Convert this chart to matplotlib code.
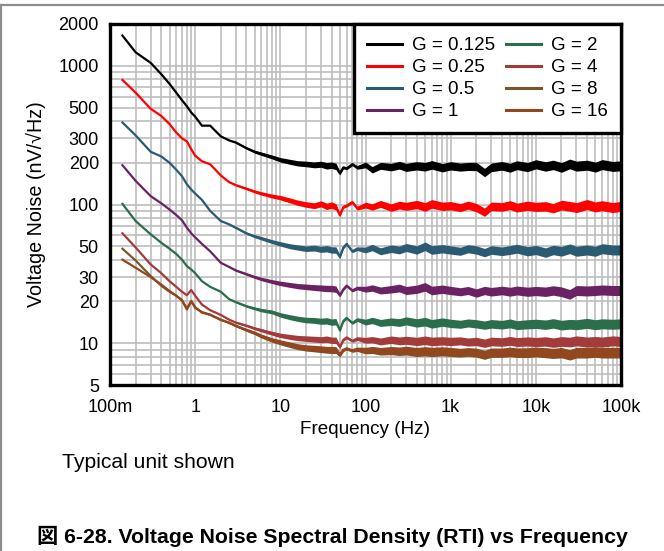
import numpy as np
import matplotlib
matplotlib.use("Agg")
import matplotlib.pyplot as plt
from matplotlib.ticker import FixedLocator, LogLocator, NullFormatter
from matplotlib.lines import Line2D

plt.rcParams['font.family'] = ['Liberation Sans', 'Noto Sans CJK JP', 'DejaVu Sans']

FREQ = [0.14, 0.2, 0.3, 0.4, 0.5, 0.6, 0.7, 0.8, 0.9, 1.0,
        1.2, 1.5, 2, 2.5, 3, 4, 5, 6, 8, 10,
        13, 16, 20, 25, 30, 35, 40, 45, 50, 55,
        60, 70, 80, 100, 120, 150, 200, 250, 300, 400,
        500, 600, 800, 1000, 1300, 1600, 2000, 2500, 3000, 4000,
        5000, 6000, 8000, 10000, 13000, 16000, 20000, 25000, 30000, 40000,
        50000, 60000, 80000, 100000]

G_0125 = [1650, 1250, 1050, 870, 740, 640, 565, 510, 460, 430,
          370, 370, 310, 290, 280, 255, 240, 232, 220, 210,
          203, 198, 196, 193, 195, 190, 192, 188, 168, 185,
          182, 195, 185, 193, 178, 190, 186, 192, 185, 190,
          187, 193, 184, 190, 186, 188, 188, 170, 185, 190,
          184, 192, 186, 195, 188, 193, 185, 196, 189, 192,
          186, 194, 188, 190]
G_025 = [790, 640, 490, 435, 380, 330, 300, 285, 250, 225,
         205, 195, 162, 145, 138, 130, 124, 120, 115, 112,
         107, 103, 100, 98, 101, 97, 99, 96, 84, 96,
         98, 104, 94, 99, 96, 101, 95, 99, 97, 100,
         96, 101, 97, 98, 95, 99, 95, 88, 97, 96,
         99, 95, 98, 96, 97, 94, 99, 97, 95, 100,
         96, 98, 95, 97]
G_05 = [390, 315, 240, 222, 200, 178, 160, 140, 128, 120,
        108, 90, 76, 72, 68, 62, 59, 57, 54, 52,
        50, 49, 48, 48.5, 47.5, 48, 47, 47, 42, 49,
        52, 46, 48, 47, 49, 46, 48, 47, 49, 47,
        50, 47, 48, 47, 46, 48, 47, 45, 47, 46,
        47, 48, 46, 47, 45, 47, 46, 48, 46, 47,
        46, 48, 47, 47]
G_1 = [192, 148, 115, 102, 92, 84, 77, 68, 62, 58,
       52, 46, 38, 35.5, 33.5, 31.5, 30, 29, 27.8, 27,
       26.3, 25.8, 25.5, 25.2, 25, 24.8, 24.8, 24.5, 22.2, 24.5,
       26, 24, 25, 24.5, 25, 24, 24.5, 25, 24, 24.5,
       25.5, 24, 24.5, 24, 23.5, 24, 23, 24, 23.5, 24,
       23.5, 24, 23.5, 23.8, 23.5, 24, 23.5, 22.5, 24, 23.8,
       24, 24.2, 24, 24]
G_2 = [101, 76, 61, 53, 48, 44, 40, 36, 34, 32,
       28, 25.5, 23.5, 20.8, 19.8, 18.5, 17.8, 17.3, 16.8, 16,
       15.4, 15, 14.7, 14.6, 14.4, 14.5, 14.2, 14.3, 12.4, 14.5,
       15.2, 14, 14.8, 14.2, 14.6, 14, 14.3, 14.1, 14.5, 14,
       14.3, 13.8, 14.2, 13.9, 13.7, 14, 13.8, 13.5, 13.8, 13.6,
       13.9, 13.5, 13.7, 13.8, 13.6, 13.9, 13.5, 13.7, 13.6, 13.9,
       13.6, 13.8, 13.7, 13.8]
G_4 = [62, 49, 37, 32, 28, 25.5, 23.5, 22.2, 24.2, 22,
       19, 17.3, 16, 14.8, 14.1, 13.4, 12.8, 12.4, 11.8, 11.4,
       11.1, 10.9, 10.8, 10.7, 10.6, 10.7, 10.5, 10.5, 9.4, 10.6,
       11, 10.4, 10.8, 10.5, 10.6, 10.3, 10.6, 10.4, 10.5, 10.3,
       10.5, 10.3, 10.4, 10.3, 10.4, 10.2, 10.3, 10.0, 10.3, 10.2,
       10.4, 10.2, 10.3, 10.2, 10.3, 10.1, 10.3, 10.2, 10.4, 10.2,
       10.3, 10.2, 10.4, 10.3]
G_8 = [48, 39.5, 30.5, 26, 23.5, 22, 20.5, 17.5, 20.2, 18,
       16.8, 16, 14.8, 14, 13.4, 12.4, 11.8, 11.2, 10.5, 10.1,
       9.7, 9.4, 9.2, 9.1, 9.0, 8.95, 8.9, 8.9, 8.2, 8.9,
       9.2, 8.8, 9.0, 8.8, 8.9, 8.7, 8.8, 8.7, 8.8, 8.6,
       8.7, 8.6, 8.7, 8.6, 8.5, 8.6, 8.5, 8.2, 8.5, 8.5,
       8.6, 8.5, 8.5, 8.6, 8.5, 8.4, 8.5, 8.2, 8.5, 8.5,
       8.6, 8.5, 8.5, 8.5]
G_16 = [40, 35, 30, 26.5, 23.8, 22, 20.3, 17.8, 20, 18.2,
        16.6, 16.1, 14.7, 14.1, 13.3, 12.5, 11.9, 11.3, 10.6, 10.2,
        9.8, 9.5, 9.3, 9.2, 9.1, 9.0, 9.0, 8.95, 8.3, 9.0,
        9.1, 8.9, 9.1, 8.9, 9.0, 8.8, 8.9, 8.8, 8.9, 8.7,
        8.8, 8.7, 8.8, 8.7, 8.6, 8.7, 8.6, 8.3, 8.6, 8.6,
        8.7, 8.6, 8.6, 8.7, 8.6, 8.5, 8.6, 8.3, 8.6, 8.6,
        8.7, 8.6, 8.6, 8.6]

# visible thickness of the noise band (half width, in decades)
BAND = [0, 0, 0, 0, 0, 0, 0, 0, 0, 0,
        0, 0, 0, 0.004, 0.006, 0.008, 0.010, 0.012, 0.014, 0.016,
        0.018, 0.019, 0.020, 0.021, 0.022, 0.023, 0.023, 0.023, 0.012, 0.010,
        0.010, 0.010, 0.013, 0.021, 0.023, 0.025, 0.027, 0.028, 0.029, 0.030,
        0.031, 0.031, 0.030, 0.030, 0.029, 0.029, 0.030, 0.030, 0.031, 0.031,
        0.032, 0.032, 0.033, 0.033, 0.034, 0.034, 0.035, 0.035, 0.036, 0.036,
        0.036, 0.036, 0.036, 0.036]

LABELS = ['G = 0.125', 'G = 0.25', 'G = 0.5', 'G = 1', 'G = 2', 'G = 4', 'G = 8', 'G = 16']
SERIES = [G_0125, G_025, G_05, G_1, G_2, G_4, G_8, G_16]
COLORS = ['#000000', '#FF0000', '#2B5B73', '#6A2262', '#2B6E4B', '#A33B3B', '#7A5526', '#92471F']

XTICKS = [0.1, 1, 10, 100, 1000, 10000, 100000]
XTICKLABELS = ['100m', '1', '10', '100', '1k', '10k', '100k']
YTICKS = [5, 10, 20, 30, 50, 100, 200, 300, 500, 1000, 2000]
YTICKLABELS = ['5', '10', '20', '30', '50', '100', '200', '300', '500', '1000', '2000']

W, H = 664, 551
fig = plt.figure(figsize=(W / 100, H / 100), dpi=100)
ax = fig.add_axes([110 / W, 1 - 385 / H, (621 - 110) / W, (385 - 24) / H])
ax.set_xscale('log')
ax.set_yscale('log')
ax.set_xlim(0.1, 1e5)
ax.set_ylim(5, 2000)

f = np.array(FREQ)
band = 10 ** np.array(BAND)
for vals, col, lab in zip(SERIES, COLORS, LABELS):
    v = np.array(vals, dtype=float)
    ax.fill_between(f, v / band, v * band, color=col, lw=0, zorder=3)
    ax.plot(f, v, color=col, lw=1.6, zorder=3, label=lab)

ax.xaxis.set_major_locator(FixedLocator(XTICKS))
ax.set_xticklabels(XTICKLABELS)
ax.xaxis.set_minor_locator(LogLocator(base=10, subs=np.arange(2, 10), numticks=100))
ax.xaxis.set_minor_formatter(NullFormatter())
ax.yaxis.set_major_locator(FixedLocator(YTICKS))
ax.set_yticklabels(YTICKLABELS)
ax.yaxis.set_minor_locator(LogLocator(base=10, subs=np.arange(2, 10), numticks=100))
ax.yaxis.set_minor_formatter(NullFormatter())

ax.grid(True, which='both', color='#BEBEBE', lw=1.2, zorder=0)
ax.set_axisbelow(True)
ax.tick_params(which='both', length=0, labelsize=13)
ax.tick_params(axis='x', pad=10)
ax.tick_params(axis='y', pad=8)
for s in ax.spines.values():
    s.set_linewidth(2.4)
    s.set_color('black')
    s.set_zorder(5)

ax.set_xlabel('Frequency (Hz)', fontsize=13.6, labelpad=4)
ax.set_ylabel('Voltage Noise (nV/\u221aHz)', fontsize=14.2, labelpad=9)

handles = [Line2D([], [], color=c, lw=2.2) for c in COLORS]
leg = ax.legend(handles, LABELS, ncol=2, loc='upper right', bbox_to_anchor=(1, 1),
                borderaxespad=0, fontsize=13.5, handlelength=1.87, handletextpad=0.53,
                columnspacing=0.6, labelspacing=0.26, borderpad=0.7,
                frameon=True, fancybox=False, edgecolor='black', framealpha=1)
leg.get_frame().set_linewidth(2.4)
leg.set_zorder(6)

fig.text(62 / W, 1 - 463 / H, 'Typical unit shown', fontsize=15.2, va='center', ha='left')
fig.text(37 / W, 1 - 536 / H, '図 6-28. Voltage Noise Spectral Density (RTI) vs Frequency',
         fontsize=15.3, fontweight='bold', va='center', ha='left')

# page border lines
fig.add_artist(Line2D([0, 1], [1 - 5 / H, 1 - 5 / H], color='#8C8C8C', lw=1.6, transform=fig.transFigure))
fig.add_artist(Line2D([1 / W, 1 / W], [0, 1 - 5 / H], color='#8C8C8C', lw=1.6, transform=fig.transFigure))

fig.savefig('out.png', dpi=100)
